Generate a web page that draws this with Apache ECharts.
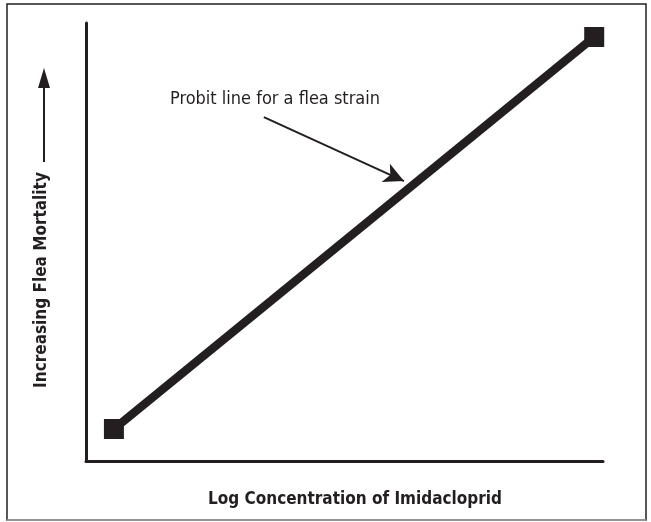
<!DOCTYPE html>
<html>
<head>
<meta charset="utf-8">
<script src="https://cdn.jsdelivr.net/npm/echarts@6/dist/echarts.min.js"></script>
<style>
  html, body { margin: 0; padding: 0; background: #ffffff; }
  #chart { width: 651px; height: 522px; }
</style>
</head>
<body>
<div id="chart"></div>
<script>
// Schematic probit line: two end points on an unlabelled log-concentration / mortality frame.
const concentration = [5.4, 98.3];   // x, percent of axis span
const mortality = [7.3, 96.8];       // y, percent of axis span
const arrowFrom = [34.4, 78.5];      // annotation arrow, data coords
const arrowTo = [61.5, 63.9];
const annotation = 'Probit line for a flea strain';
const xTitle = 'Log Concentration of Imidacloprid';
const yTitle = 'Increasing Flea Mortality';

const INK = '#231f20';
const FONT = "'Liberation Sans Narrow', 'DejaVu Sans Condensed', sans-serif";

const chart = echarts.init(document.getElementById('chart'), null, { renderer: 'canvas' });

const axisCommon = {
  type: 'value', min: 0, max: 100,
  axisLine: { show: true, lineStyle: { color: INK, width: 3 } },
  axisTick: { show: false }, axisLabel: { show: false }, splitLine: { show: false },
};

chart.setOption({
  backgroundColor: '#ffffff',
  animation: false,
  grid: { left: 86, right: 48, top: 23, bottom: 61 },
  xAxis: axisCommon,
  yAxis: axisCommon,
  graphic: [
    // outer frame
    { type: 'rect', shape: { x: 7, y: 4, width: 639, height: 516 }, style: { fill: 'none', stroke: INK, lineWidth: 1.5 }, z: 0 },
    { type: 'line', shape: { x1: 7, y1: 520, x2: 646, y2: 520 }, style: { stroke: '#aaaaaa', lineWidth: 1.5 }, z: 1 },
    // y title with upward arrow
    { type: 'text', x: 42, y: 280, rotation: Math.PI / 2,
      style: { text: yTitle, font: `bold 17px ${FONT}`, fill: INK, align: 'center', verticalAlign: 'middle' } },
    { type: 'line', shape: { x1: 44, y1: 162, x2: 44, y2: 84 }, style: { stroke: INK, lineWidth: 2 } },
    { type: 'polygon', shape: { points: [[44, 68], [38, 88], [50, 88]] }, style: { fill: INK } },
    // x title
    { type: 'text', x: 355, y: 500,
      style: { text: xTitle, font: `bold 17px ${FONT}`, fill: INK, align: 'center', verticalAlign: 'middle' } },
    // annotation
    { type: 'text', x: 275, y: 99,
      style: { text: annotation, font: `18px ${FONT}`, fill: INK, align: 'center', verticalAlign: 'middle' } },
  ],
  series: [{
    type: 'line',
    data: concentration.map((x, i) => [x, mortality[i]]),
    symbol: 'rect', symbolSize: 20, showSymbol: true,
    lineStyle: { color: INK, width: 8.5 },
    itemStyle: { color: INK },
    z: 3,
    markLine: {
      silent: true, animation: false,
      symbol: ['none', 'arrow'], symbolSize: [15, 20],
      lineStyle: { color: INK, width: 2, type: 'solid' },
      label: { show: false },
      data: [[{ coord: arrowFrom }, { coord: arrowTo }]],
    },
  }],
});
</script>
</body>
</html>
